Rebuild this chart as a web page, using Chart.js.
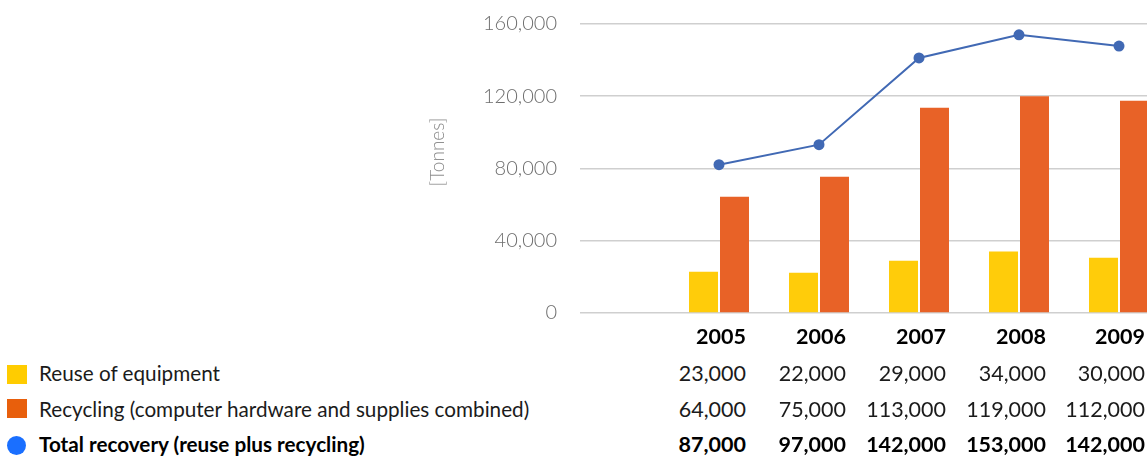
<!DOCTYPE html>
<html>
<head>
<meta charset="utf-8">
<script src="https://cdn.jsdelivr.net/npm/chart.js@4/dist/chart.umd.min.js"></script>
<style>
  html, body { margin: 0; padding: 0; background: #fff; overflow: hidden; }
  #wrap { position: relative; width: 1147px; height: 457px; font-family: Lato, "Open Sans", sans-serif; }
  #chart { position: absolute; left: 0; top: 0; }
  .ytitle { position: absolute; left: 387px; top: 142px; width: 100px; height: 20px; line-height: 20px;
            text-align: center; font-size: 19px; font-weight: 300; color: #8a8a8a; transform: rotate(-90deg); }
  .cell { position: absolute; width: 140px; text-align: right; font-size: 21.5px; line-height: 25px; color: #1b1b1b; white-space: nowrap; }
  .lab { position: absolute; left: 39px; font-size: 20.7px; line-height: 25px; color: #1b1b1b; white-space: nowrap; }
  .b { font-weight: 700; color: #000; }
  .mk { position: absolute; left: 7px; width: 20px; height: 19px; }
</style>
</head>
<body>
<div id="wrap">
  <canvas id="chart" width="1147" height="330"></canvas>
  <div class="ytitle">[Tonnes]</div>
  <div id="table"></div>
</div>
<script>
// years on the x axis
const years = [2005, 2006, 2007, 2008, 2009];

// values as drawn in the plot (tonnes)
const reuse = [22800, 22300, 28900, 34000, 30600];
const recycling = [64400, 75500, 113700, 120000, 117500];
const total = [82100, 93200, 141200, 154000, 147800];

// numbers printed in the table under the chart
const reuseTable = ['23,000', '22,000', '29,000', '34,000', '30,000'];
const recyclingTable = ['64,000', '75,000', '113,000', '119,000', '112,000'];
const totalTable = ['87,000', '97,000', '142,000', '153,000', '142,000'];

const seriesNames = [
  'Reuse of equipment',
  'Recycling (computer hardware and supplies combined)',
  'Total recovery (reuse plus recycling)'
];

const yTicks = [0, 40000, 80000, 120000, 160000];

const toPoints = (arr) => arr.map((v, i) => ({ x: years[i], y: v }));

const chart = new Chart(document.getElementById('chart'), {
  type: 'bar',
  data: {
    datasets: [
      {
        type: 'line',
        label: seriesNames[2],
        data: toPoints(total),
        borderColor: '#4169b4',
        backgroundColor: '#4169b4',
        borderWidth: 2,
        pointRadius: 5.5,
        pointBorderWidth: 0,
        order: 0
      },
      {
        label: seriesNames[0],
        data: toPoints(reuse),
        backgroundColor: '#ffcc0a',
        categoryPercentage: 0.62,
        barPercentage: 0.935,
        order: 1
      },
      {
        label: seriesNames[1],
        data: toPoints(recycling),
        backgroundColor: '#e86227',
        categoryPercentage: 0.62,
        barPercentage: 0.935,
        order: 1
      }
    ]
  },
  options: {
    responsive: false,
    animation: false,
    layout: { autoPadding: false, padding: { left: 427, right: 0, top: 24, bottom: 17 } },
    plugins: { legend: { display: false }, tooltip: { enabled: false } },
    scales: {
      x: {
        type: 'linear',
        display: false,
        offset: false,
        min: 2003.61,
        max: 2009.28,
        afterBuildTicks: (s) => { s.ticks = years.map(v => ({ value: v })); }
      },
      y: {
        min: 0,
        max: 160000,
        afterBuildTicks: (s) => { s.ticks = yTicks.map(v => ({ value: v })); },
        // fixed axis width, and no extra label overflow padding above/below
        afterFit: (s) => { s.width = 153; s.paddingTop = 0; s.paddingBottom = 0; },
        border: { display: false },
        grid: { color: '#cfcfcf', lineWidth: 1.6, drawTicks: false },
        ticks: {
          padding: 23,
          color: '#6e6e6e',
          font: { family: 'Lato', size: 20, weight: 300 },
          callback: (v) => v.toLocaleString('en-US')
        }
      }
    }
  }
});

// legend + data table below the plot, columns lined up with the x scale
const table = document.getElementById('table');
const rowTops = [324, 361, 397, 432];
const markTops = [365, 399, 436];
const markStyles = [
  'background:#ffcc00',
  'background:#e85f0c',
  'background:#1a6fff;border-radius:50%;width:19px;height:19px;filter:blur(0.6px)'
];

function add(cls, text, style) {
  const d = document.createElement('div');
  d.className = cls;
  if (text !== null) d.textContent = text;
  d.setAttribute('style', style);
  table.appendChild(d);
}

seriesNames.forEach((name, r) => {
  add('mk', null, 'top:' + markTops[r] + 'px;' + markStyles[r]);
  add('lab' + (r === 2 ? ' b' : ''), name, 'top:' + rowTops[r + 1] + 'px');
});

const xs = chart.scales.x;
const rows = [years.map(String), reuseTable, recyclingTable, totalTable];
rows.forEach((row, r) => {
  row.forEach((txt, i) => {
    const right = Math.min(xs.getPixelForValue(years[i]) + 27, 1145);
    const bold = (r === 0 || r === 3) ? ' b' : '';
    add('cell' + bold, txt, 'top:' + rowTops[r] + 'px;left:' + (right - 140) + 'px');
  });
});
</script>
</body>
</html>
